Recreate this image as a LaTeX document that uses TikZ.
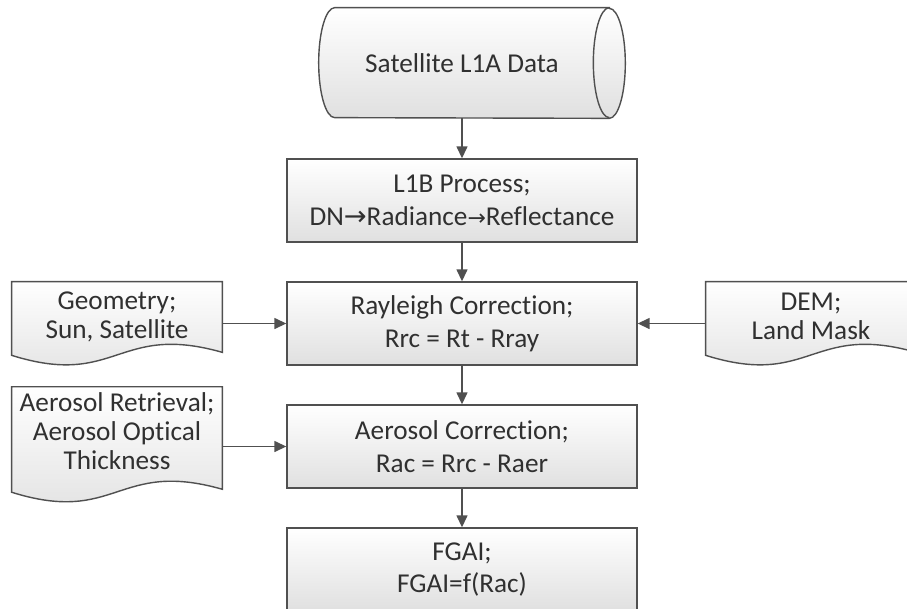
\documentclass[tikz,border=0pt]{standalone}
\usepackage{fontspec}
\setmainfont{Carlito}[Ligatures=NoCommon]
\newfontfamily\arrowfont{DejaVu Sans}
\usetikzlibrary{arrows.meta,calc,backgrounds}
\definecolor{edgegray}{HTML}{505050}
\definecolor{shadegray}{HTML}{E0E0E0}
\definecolor{textgray}{HTML}{303030}

% outline of a document shape round a node; #2 = how far the sides run below the node
\newcommand{\docoutline}[2]{(#1.north west) -- (#1.north east) -- ($(#1.south east)+(0,#2-3)$)
  .. controls ($(#1.south)+(0,#2-33)$) and ($(#1.south)+(0,#2+33)$) .. ($(#1.south west)+(0,#2)$) -- cycle}

\begin{document}
\begin{tikzpicture}[x=0.02cm, y=-0.02cm,
    font=\fontsize{15.5}{18.5}\selectfont, text=textgray,
    box/.style={rectangle, draw=edgegray, line width=0.8pt, top color=white, bottom color=shadegray,
      minimum width=7cm, minimum height=1.66cm, align=center},
    doc/.style={rectangle, minimum width=4.2cm, align=center, font=\fontsize{15.5}{16.5}\selectfont},
    docfill/.style={draw=edgegray, line width=0.8pt, top color=white, bottom color=shadegray},
    arr/.style={draw=edgegray, line width=0.8pt, -{Triangle[length=0.24cm,width=0.22cm]}}
    ]
  \clip (0,0) rectangle (907,609);

  \node[minimum width=5.48cm, minimum height=2.2cm] (l1a) at (472,63) {Satellite L1A Data\hspace*{0.4cm}};
  \node[box] (l1b) at (462,200.5) {L1B Process;\\DN{\arrowfont →}Radiance{\arrowfont\fontsize{12.5}{12.5}\selectfont →}Reflectance};
  \node[box] (ray) at (462,323.5) {Rayleigh Correction;\\Rrc = Rt - Rray};
  \node[box] (aer) at (462,446.5) {Aerosol Correction;\\Rac = Rrc - Raer};
  \node[box] (fgai) at (462,569.5) {FGAI;\\FGAI=f(Rac)};

  \node[doc, minimum height=1.38cm] (geo) at (117,316.5) {Geometry;\\Sun, Satellite};
  \node[doc, minimum height=1.38cm] (dem) at (811,316.5) {DEM;\\Land Mask};
  \node[doc, minimum height=1.7cm] (aot) at (117,431.5) {Aerosol Retrieval;\\Aerosol Optical\\Thickness};
  \begin{pgfonlayer}{background}
    \path[docfill] (l1a.north east) -- (l1a.north west)
      arc[start angle=90, end angle=270, x radius=0.32cm, y radius=1.1cm] -- (l1a.south east)
      arc[start angle=-90, end angle=90, x radius=0.32cm, y radius=1.1cm] -- cycle;
    \draw[edgegray, line width=0.8pt] (l1a.north east)
      arc[start angle=90, end angle=270, x radius=0.32cm, y radius=1.1cm];
    \path[docfill] \docoutline{geo}{4};
    \path[docfill] \docoutline{dem}{4};
    \path[docfill] \docoutline{aot}{16};
  \end{pgfonlayer}

  \draw[arr] (l1a.south -| l1b.north) -- (l1b);
  \draw[arr] (l1b) -- (ray);
  \draw[arr] (ray) -- (aer);
  \draw[arr] (aer) -- (fgai);
  \draw[arr] (geo.east |- ray.west) -- (ray.west);
  \draw[arr] (dem.west |- ray.east) -- (ray.east);
  \draw[arr] (aot.east |- aer.west) -- (aer.west);
\end{tikzpicture}
\end{document}
